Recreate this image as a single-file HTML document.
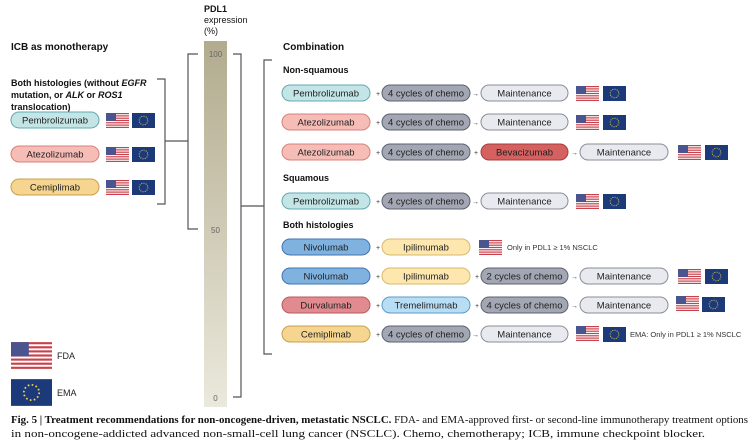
<!DOCTYPE html>
<html><head><meta charset="utf-8"><style>
html,body{margin:0;padding:0;background:#fff;}
svg{display:block;font-family:"Liberation Sans",sans-serif;}
.p{font-size:9.5px;text-anchor:middle;fill:#222;}
.h{font-size:10px;font-weight:bold;fill:#111;}
.s{font-size:7px;fill:#333;}
</style></head><body>
<svg width="755" height="444" viewBox="0 0 755 444" xmlns="http://www.w3.org/2000/svg">
<defs>
<linearGradient id="bar" x1="0" y1="0" x2="0" y2="1"><stop offset="0" stop-color="#b2ab8e"/><stop offset="1" stop-color="#ebe9dc"/></linearGradient>
<symbol id="us" viewBox="0 0 23 15"><rect width="23" height="15" fill="#fff"/>
<g fill="#c8414b"><rect y="0" width="23" height="1.2"/><rect y="2.3" width="23" height="1.2"/><rect y="4.6" width="23" height="1.2"/><rect y="6.9" width="23" height="1.2"/><rect y="9.2" width="23" height="1.2"/><rect y="11.5" width="23" height="1.2"/><rect y="13.8" width="23" height="1.2"/></g>
<rect width="10" height="8" fill="#4a5590"/></symbol>
<symbol id="eu" viewBox="0 0 23 15"><rect width="23" height="15" fill="#1c3a7a"/><circle cx="11.5" cy="7.5" r="4.3" fill="none" stroke="#f3d34a" stroke-width="1" stroke-dasharray="0.9 1.35"/></symbol>
</defs>

<text x="11" y="50" class="h">ICB as monotherapy</text>
<text x="204" y="12" class="h" style="font-size:9px">PDL1</text>
<text x="204" y="23" class="h" style="font-size:9px;font-weight:normal">expression</text>
<text x="204" y="34" class="h" style="font-size:9px;font-weight:normal">(%)</text>
<text x="283" y="50" class="h">Combination</text>
<text x="283" y="73" class="h" style="font-size:9px">Non-squamous</text>
<text x="283" y="181" class="h" style="font-size:9px">Squamous</text>
<text x="283" y="228" class="h" style="font-size:9px">Both histologies</text>

<text x="11" y="86" class="h" style="font-size:9px">Both histologies (without <tspan font-style="italic">EGFR</tspan></text>
<text x="11" y="98" class="h" style="font-size:9px">mutation, or <tspan font-style="italic">ALK</tspan> or <tspan font-style="italic">ROS1</tspan></text>
<text x="11" y="110" class="h" style="font-size:9px">translocation)</text>

<rect x="204" y="41" width="23" height="366" fill="url(#bar)"/>
<text x="215.5" y="57" class="p" style="font-size:8px;fill:#666">100</text>
<text x="215.5" y="233" class="p" style="font-size:8px;fill:#666">50</text>
<text x="215.5" y="401" class="p" style="font-size:8px;fill:#666">0</text>

<g fill="none" stroke="#555" stroke-width="1.2">
<path d="M198 54 H188 V229 H198"/>
<path d="M157 79 H165 V204 H157"/>
<path d="M165 141 H188"/>
<path d="M233 54 H241 V397 H233"/>
<path d="M241 206 H264"/>
<path d="M272 60 H264 V354 H272"/>
</g>

<rect x="11" y="112" width="88" height="16" rx="8" fill="#c3e5e6" stroke="#62aab0"/><text x="55" y="123.5" class="p">Pembrolizumab</text>
<rect x="11" y="146" width="88" height="16" rx="8" fill="#f6bcb6" stroke="#d8807a"/><text x="55" y="157.5" class="p">Atezolizumab</text>
<rect x="11" y="179" width="88" height="16" rx="8" fill="#f5d590" stroke="#c9a04a"/><text x="55" y="190.5" class="p">Cemiplimab</text>
<use href="#us" x="106" y="113" width="23" height="15"/><use href="#eu" x="132" y="113" width="23" height="15"/>
<use href="#us" x="106" y="147" width="23" height="15"/><use href="#eu" x="132" y="147" width="23" height="15"/>
<use href="#us" x="106" y="180" width="23" height="15"/><use href="#eu" x="132" y="180" width="23" height="15"/>

<use href="#us" x="11" y="342" width="41" height="27"/><text x="57" y="359" class="p" style="text-anchor:start;font-size:9px">FDA</text>
<use href="#eu" x="11" y="379" width="41" height="27"/><text x="57" y="396" class="p" style="text-anchor:start;font-size:9px">EMA</text>

<g>
<rect x="282" y="85" width="88" height="16" rx="8" fill="#c3e5e6" stroke="#62aab0"/><text x="326" y="96.5" class="p">Pembrolizumab</text>
<text x="376" y="96" class="s">+</text>
<rect x="382" y="85" width="88" height="16" rx="8" fill="#a3a7b3" stroke="#5c6070"/><text x="426" y="96.5" class="p">4 cycles of chemo</text>
<text x="472" y="96" class="s">→</text>
<rect x="481" y="85" width="87" height="16" rx="8" fill="#e9eaf0" stroke="#8a8d98"/><text x="524.5" y="96.5" class="p">Maintenance</text>
<use href="#us" x="576" y="86" width="23" height="15"/><use href="#eu" x="603" y="86" width="23" height="15"/>

<rect x="282" y="114" width="88" height="16" rx="8" fill="#f6bcb6" stroke="#d8807a"/><text x="326" y="125.5" class="p">Atezolizumab</text>
<text x="376" y="125" class="s">+</text>
<rect x="382" y="114" width="88" height="16" rx="8" fill="#a3a7b3" stroke="#5c6070"/><text x="426" y="125.5" class="p">4 cycles of chemo</text>
<text x="472" y="125" class="s">→</text>
<rect x="481" y="114" width="87" height="16" rx="8" fill="#e9eaf0" stroke="#8a8d98"/><text x="524.5" y="125.5" class="p">Maintenance</text>
<use href="#us" x="576" y="115" width="23" height="15"/><use href="#eu" x="603" y="115" width="23" height="15"/>

<rect x="282" y="144" width="88" height="16" rx="8" fill="#f6bcb6" stroke="#d8807a"/><text x="326" y="155.5" class="p">Atezolizumab</text>
<text x="376" y="155" class="s">+</text>
<rect x="382" y="144" width="88" height="16" rx="8" fill="#a3a7b3" stroke="#5c6070"/><text x="426" y="155.5" class="p">4 cycles of chemo</text>
<text x="474" y="155" class="s">+</text>
<rect x="481" y="144" width="87" height="16" rx="8" fill="#d46060" stroke="#a63c3c"/><text x="524.5" y="155.5" class="p">Bevacizumab</text>
<text x="571" y="155" class="s">→</text>
<rect x="580" y="144" width="88" height="16" rx="8" fill="#e9eaf0" stroke="#8a8d98"/><text x="624" y="155.5" class="p">Maintenance</text>
<use href="#us" x="678" y="145" width="23" height="15"/><use href="#eu" x="705" y="145" width="23" height="15"/>

<rect x="282" y="193" width="88" height="16" rx="8" fill="#c3e5e6" stroke="#62aab0"/><text x="326" y="204.5" class="p">Pembrolizumab</text>
<text x="376" y="204" class="s">+</text>
<rect x="382" y="193" width="88" height="16" rx="8" fill="#a3a7b3" stroke="#5c6070"/><text x="426" y="204.5" class="p">4 cycles of chemo</text>
<text x="472" y="204" class="s">→</text>
<rect x="481" y="193" width="87" height="16" rx="8" fill="#e9eaf0" stroke="#8a8d98"/><text x="524.5" y="204.5" class="p">Maintenance</text>
<use href="#us" x="576" y="194" width="23" height="15"/><use href="#eu" x="603" y="194" width="23" height="15"/>

<rect x="282" y="239" width="88" height="16" rx="8" fill="#80b2e0" stroke="#3f74b0"/><text x="326" y="250.5" class="p">Nivolumab</text>
<text x="376" y="250" class="s">+</text>
<rect x="382" y="239" width="88" height="16" rx="8" fill="#fde7ae" stroke="#d8b96a"/><text x="426" y="250.5" class="p">Ipilimumab</text>
<use href="#us" x="479" y="240" width="23" height="15"/>
<text x="507" y="250" class="s" style="font-size:7.5px">Only in PDL1 ≥ 1% NSCLC</text>

<rect x="282" y="268" width="88" height="16" rx="8" fill="#80b2e0" stroke="#3f74b0"/><text x="326" y="279.5" class="p">Nivolumab</text>
<text x="376" y="279" class="s">+</text>
<rect x="382" y="268" width="88" height="16" rx="8" fill="#fde7ae" stroke="#d8b96a"/><text x="426" y="279.5" class="p">Ipilimumab</text>
<text x="475" y="279" class="s">+</text>
<rect x="481" y="268" width="87" height="16" rx="8" fill="#a3a7b3" stroke="#5c6070"/><text x="524.5" y="279.5" class="p">2 cycles of chemo</text>
<text x="571" y="279" class="s">→</text>
<rect x="580" y="268" width="88" height="16" rx="8" fill="#e9eaf0" stroke="#8a8d98"/><text x="624" y="279.5" class="p">Maintenance</text>
<use href="#us" x="678" y="269" width="23" height="15"/><use href="#eu" x="705" y="269" width="23" height="15"/>

<rect x="282" y="297" width="88" height="16" rx="8" fill="#e18b90" stroke="#b85a60"/><text x="326" y="308.5" class="p">Durvalumab</text>
<text x="376" y="308" class="s">+</text>
<rect x="382" y="297" width="88" height="16" rx="8" fill="#b8def5" stroke="#5a9ac8"/><text x="426" y="308.5" class="p">Tremelimumab</text>
<text x="475" y="308" class="s">+</text>
<rect x="481" y="297" width="87" height="16" rx="8" fill="#a3a7b3" stroke="#5c6070"/><text x="524.5" y="308.5" class="p">4 cycles of chemo</text>
<text x="571" y="308" class="s">→</text>
<rect x="580" y="297" width="88" height="16" rx="8" fill="#e9eaf0" stroke="#8a8d98"/><text x="624" y="308.5" class="p">Maintenance</text>
<use href="#us" x="676" y="296" width="23" height="15"/><use href="#eu" x="702" y="297" width="23" height="15"/>

<rect x="282" y="326" width="88" height="16" rx="8" fill="#f5d590" stroke="#c9a04a"/><text x="326" y="337.5" class="p">Cemiplimab</text>
<text x="376" y="337" class="s">+</text>
<rect x="382" y="326" width="88" height="16" rx="8" fill="#a3a7b3" stroke="#5c6070"/><text x="426" y="337.5" class="p">4 cycles of chemo</text>
<text x="472" y="337" class="s">→</text>
<rect x="481" y="326" width="87" height="16" rx="8" fill="#e9eaf0" stroke="#8a8d98"/><text x="524.5" y="337.5" class="p">Maintenance</text>
<use href="#us" x="576" y="326" width="23" height="15"/><use href="#eu" x="603" y="327" width="23" height="15"/>
<text x="630" y="337" class="s" style="font-size:7.5px">EMA: Only in PDL1 ≥ 1% NSCLC</text>
</g>

<text x="11" y="423" textLength="737" lengthAdjust="spacingAndGlyphs" style="font-family:'Liberation Serif',serif;font-size:10.5px;fill:#111"><tspan font-weight="bold">Fig. 5 | Treatment recommendations for non-oncogene-driven, metastatic NSCLC.</tspan> FDA- and EMA-approved first- or second-line immunotherapy treatment options</text>
<text x="11" y="437" textLength="694" lengthAdjust="spacingAndGlyphs" style="font-family:'Liberation Serif',serif;font-size:10.5px;fill:#111">in non-oncogene-addicted advanced non-small-cell lung cancer (NSCLC). Chemo, chemotherapy; ICB, immune checkpoint blocker.</text>
</svg>
</body></html>
